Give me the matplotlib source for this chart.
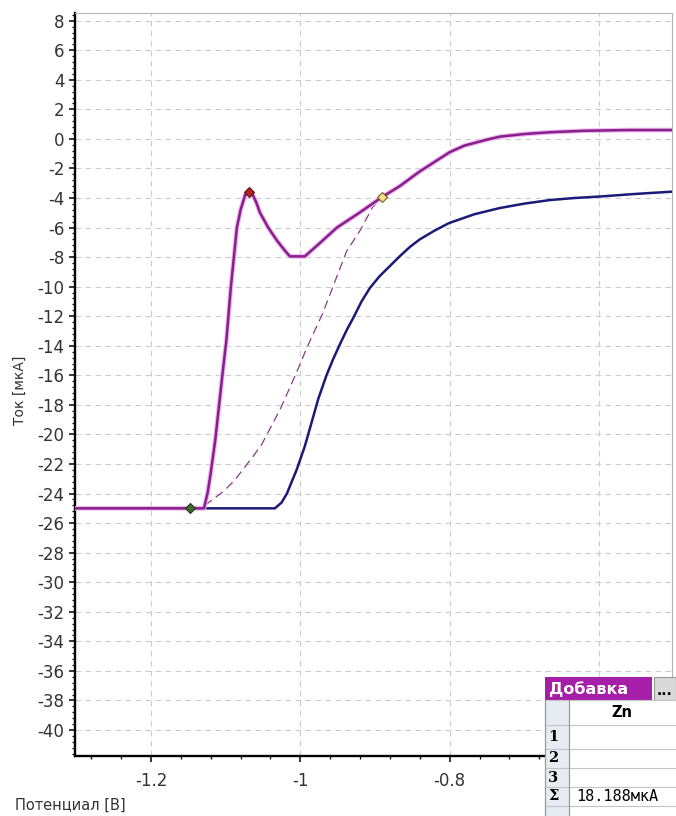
import matplotlib
matplotlib.use("Agg")
import matplotlib.pyplot as plt
import matplotlib.patheffects as pe
from matplotlib.patches import Rectangle
from matplotlib.ticker import FixedLocator, FixedFormatter, MultipleLocator

plt.rcParams['font.family'] = ['DejaVu Sans']
plt.rcParams['axes.unicode_minus'] = False

# ---------------- data ----------------
pink_x = [-1.302, -1.148, -1.129, -1.124, -1.120, -1.114, -1.109, -1.104, -1.099, -1.093,
          -1.085, -1.080, -1.074, -1.069, -1.064, -1.059, -1.054, -1.043, -1.031, -1.020,
          -1.014, -0.994, -0.975, -0.951, -0.921, -0.891, -0.867, -0.840, -0.800, -0.780,
          -0.750, -0.733, -0.700, -0.666, -0.620, -0.560, -0.502]
pink_y = [-25.0, -25.0, -25.0, -23.9, -22.6, -20.4, -18.1, -15.8, -13.6, -10.0,
          -6.0, -4.8, -3.8, -3.55, -3.75, -4.3, -5.0, -6.0, -6.9, -7.6,
          -7.95, -7.95, -7.1, -6.0, -5.0, -3.95, -3.2, -2.2, -0.9, -0.45,
          -0.05, 0.15, 0.33, 0.45, 0.55, 0.6, 0.6]

blue_x = [-1.129, -1.034, -1.025, -1.018, -1.005, -0.994, -0.985, -0.976, -0.965, -0.956,
          -0.947, -0.938, -0.929, -0.918, -0.907, -0.894, -0.880, -0.867, -0.853, -0.840,
          -0.820, -0.801, -0.767, -0.733, -0.700, -0.666, -0.633, -0.599, -0.550, -0.502]
blue_y = [-25.0, -25.0, -24.6, -24.0, -22.4, -20.8, -19.2, -17.6, -16.0, -14.9,
          -13.9, -12.95, -12.1, -11.0, -10.1, -9.3, -8.6, -7.95, -7.3, -6.8,
          -6.2, -5.7, -5.1, -4.68, -4.38, -4.14, -4.0, -3.9, -3.72, -3.57]

dash_x = [-1.128, -1.104, -1.088, -1.065, -1.052, -1.027, -1.005, -0.991, -0.970, -0.951,
          -0.938, -0.920, -0.903, -0.891]
dash_y = [-24.8, -23.9, -23.1, -21.6, -20.7, -18.3, -15.8, -14.1, -11.8, -9.3,
          -7.6, -6.2, -4.6, -3.95]

marker_x = [-1.148, -1.069, -0.891]
marker_y = [-25.0, -3.6, -3.95]
marker_colors = ['#3d6b30', '#b02424', '#f7e08a']
marker_edges = ['#1e3a18', '#5a1010', '#7a5a20']

x_ticks = [-1.2, -1.0, -0.8, -0.6]
x_tick_labels = ['-1.2', '-1', '-0.8', '']
y_ticks = list(range(-40, 9, 2))
y_tick_labels = [str(v) for v in y_ticks]

x_label = 'Потенциал [В]'
y_label = 'Ток [мкА]'

table_title = 'Добавка'
table_column = 'Zn'
table_rows = ['1', '2', '3', 'Σ']
table_values = ['', '', '', '18.188мкА']

# ---------------- figure ----------------
W, H = 676, 816
fig = plt.figure(figsize=(W / 100, H / 100), dpi=100)
fig.patch.set_facecolor('white')

ax = fig.add_axes([75 / W, (H - 756) / H, (672 - 75) / W, (756 - 13) / H])
ax.set_xlim(-1.3018, -0.5022)
ax.set_ylim(-41.76, 8.52)

ax.grid(True, which='major', color='#cccccc', linestyle=(0, (5, 4)), linewidth=0.8)
ax.set_axisbelow(True)

ax.plot(dash_x, dash_y, color='#8a3a8c', linewidth=0.9, linestyle=(0, (7, 4)), zorder=3)
ax.plot(blue_x, blue_y, color='#1a1a78', linewidth=1.8, zorder=4,
        solid_joinstyle='round')
ax.plot(pink_x, pink_y, color='#86208a', linewidth=1.8, zorder=5, solid_joinstyle='round',
        path_effects=[pe.Stroke(linewidth=3.4, foreground='#f0b4f0'), pe.Normal()])
for mx, my, fc, ec in zip(marker_x, marker_y, marker_colors, marker_edges):
    ax.plot([mx], [my], marker='D', markersize=5.5, markerfacecolor=fc,
            markeredgecolor=ec, markeredgewidth=0.8, linestyle='none', zorder=6)

ax.xaxis.set_major_locator(FixedLocator(x_ticks))
ax.xaxis.set_major_formatter(FixedFormatter(x_tick_labels))
ax.yaxis.set_major_locator(FixedLocator(y_ticks))
ax.yaxis.set_major_formatter(FixedFormatter(y_tick_labels))
ax.xaxis.set_minor_locator(MultipleLocator(0.04))
ax.yaxis.set_minor_locator(MultipleLocator(0.4))

ax.tick_params(which='major', direction='out', length=4.5, width=1.1, color='black',
               labelsize=12, labelcolor='#333333', pad=3)
ax.tick_params(which='minor', direction='out', length=2.5, width=0.9, color='black')
ax.tick_params(axis='x', pad=7)

for s in ['left', 'bottom']:
    ax.spines[s].set_linewidth(1.7)
    ax.spines[s].set_color('black')
for s in ['top', 'right']:
    ax.spines[s].set_linewidth(0.8)
    ax.spines[s].set_color('#b4b4b4')

ax.set_ylabel(y_label, fontsize=10, color='#333333', va='center')
ax.yaxis.set_label_coords((20 - 75) / 597, (756 - 390) / 743)
ax.set_xlabel(x_label, fontsize=10.5, color='#333333', ha='left', va='center')
ax.xaxis.set_label_coords((15 - 75) / 597, (756 - 805) / 743)

# ---------------- table overlay (pixel coordinates) ----------------
ov = fig.add_axes([0, 0, 1, 1], zorder=10)
ov.set_xlim(0, W)
ov.set_ylim(H, 0)
ov.axis('off')
ov.patch.set_alpha(0)

# title bar
ov.add_patch(Rectangle((545, 677), 107, 23, facecolor='#a61fa8', edgecolor='none'))
ov.text(549, 689, table_title, color='white', fontsize=11.5, fontweight='bold',
        ha='left', va='center')
ov.add_patch(Rectangle((653.5, 677), 22.5, 23, facecolor='#d9d9d9', edgecolor='#9a9a9a',
                       linewidth=0.8))
ov.text(664.5, 691, '...', color='black', fontsize=10, fontweight='bold',
        ha='center', va='center')

# grid body
ov.add_patch(Rectangle((545, 700), 131, 116, facecolor='white', edgecolor='none'))
ov.add_patch(Rectangle((545, 700), 24, 116, facecolor='#e7ecf2', edgecolor='none'))
row_lines = [700, 725, 749, 768, 787, 806]
for yl in row_lines:
    ov.plot([545, 676], [yl, yl], color='#c4c4c4', linewidth=0.8)
ov.plot([545, 545], [700, 816], color='#9a9a9a', linewidth=0.9)
ov.plot([569, 569], [700, 816], color='#9a9a9a', linewidth=0.9)

ov.text(622, 712.5, table_column, color='black', fontsize=10.5, fontweight='bold',
        ha='center', va='center')
row_centers = [737, 758.5, 777.5, 796.5]
for lab, val, yc in zip(table_rows, table_values, row_centers):
    ov.text(548, yc, lab, color='black', fontsize=10.5, fontweight='bold',
            ha='left', va='center', family='DejaVu Serif')
    if val:
        ov.text(576, yc, val, color='black', fontsize=11, ha='left', va='center',
                family='DejaVu Sans Mono')

fig.savefig('out.png', dpi=100, facecolor='white')
